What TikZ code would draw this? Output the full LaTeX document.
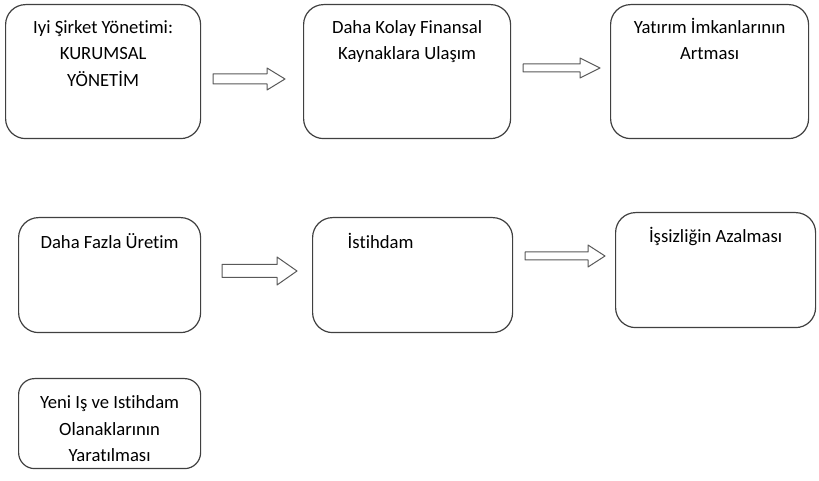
\documentclass[tikz,border=0pt]{standalone}
\usepackage{fontspec}
\setmainfont{Carlito}[Ligatures=NoCommon]

\begin{document}
\begin{tikzpicture}[x=0.75pt,y=-0.75pt,line join=round,
  kutu/.style={draw=black!75,line width=0.9pt,rounded corners=15pt,anchor=north west,inner sep=0pt},
  yazi/.style={anchor=north,align=center,inner sep=0pt,font=\fontsize{14}{19.8}\selectfont,yshift=-8pt},
  blok/.style={draw=black!65,line width=0.75pt,fill=white}]
  \useasboundingbox (0,0) rectangle (819,481);
  % ust sira
  \node[kutu,minimum width=146.25pt,minimum height=100.5pt] (kurumsal) at (5,4) {};
  \node[kutu,minimum width=155.25pt,minimum height=100.5pt] (finans) at (303,4) {};
  \node[kutu,minimum width=148.5pt,minimum height=100.5pt] (yatirim) at (610,4) {};
  \node[yazi] (kurumsal-t) at (kurumsal.north) {\strut Iyi Şirket Yönetimi:\\KURUMSAL\\YÖNETİM};
  \node[yazi] (finans-t) at (finans.north) {\strut Daha Kolay Finansal\\Kaynaklara Ulaşım};
  \node[yazi] (yatirim-t) at (yatirim.north) {\strut Yatırım İmkanlarının\\Artması};
  % orta sira
  \node[kutu,minimum width=136.5pt,minimum height=86.25pt] (uretim) at (18,217) {};
  \node[kutu,minimum width=150pt,minimum height=86.25pt] (istihdam) at (312,217) {};
  \node[kutu,minimum width=150pt,minimum height=86.25pt] (issizlik) at (615,212) {};
  \node[yazi,yshift=-1.5pt] (uretim-t) at (uretim.north) {\strut Daha Fazla Üretim};
  \node[yazi,yshift=-1.5pt,xshift=-24pt] (istihdam-t) at (istihdam.north) {\strut İstihdam};
  \node[yazi,yshift=-1pt] (issizlik-t) at (issizlik.north) {\strut İşsizliğin Azalması};
  % alt
  \node[kutu,rounded corners=12pt,minimum width=136.5pt,minimum height=67.5pt] (yeniis) at (18,378) {};
  \node[yazi,yshift=-1pt] (yeniis-t) at (yeniis.north) {\strut Yeni Iş ve Istihdam\\Olanaklarının\\Yaratılması};
  % blok oklar
  \draw[blok] (213,74) -- (267,74) -- (267,68) -- (285,79) -- (267,90) -- (267,84) -- (213,84) -- cycle;
  \draw[blok] (523,64) -- (580,64) -- (580,58) -- (600,68) -- (580,78) -- (580,72) -- (523,72) -- cycle;
  \draw[blok] (222,264.5) -- (277,264.5) -- (277,257) -- (297,271) -- (277,285) -- (277,277.5) -- (222,277.5) -- cycle;
  \draw[blok] (525,252) -- (588,252) -- (588,245) -- (605,256) -- (588,267) -- (588,260) -- (525,260) -- cycle;
\end{tikzpicture}
\end{document}
